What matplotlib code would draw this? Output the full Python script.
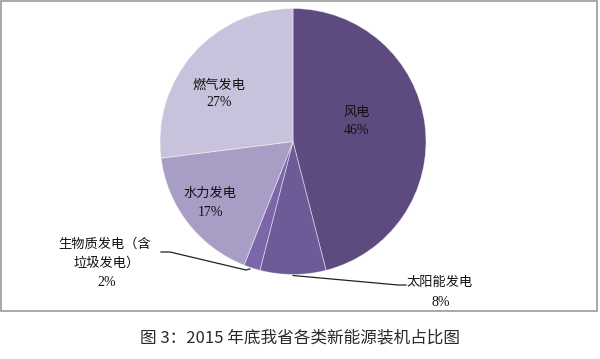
import numpy as np
import matplotlib.pyplot as plt
from matplotlib.patches import Rectangle

plt.rcParams['font.family'] = ['Noto Sans CJK SC', 'DejaVu Sans']

labels = ['风电', '太阳能发电', '生物质发电（含\n垃圾发电）', '水力发电', '燃气发电']
shares = [46, 8, 2, 17, 27]
colors = ['#5d4a7e', '#6e5a97', '#7b66a9', '#a89dc4', '#c9c2dc']

W, H = 600, 359
fig = plt.figure(figsize=(6, 3.59), dpi=100)
ax = fig.add_axes([0, 0, 1, 1])

cx, cy, r = 293, H - 141.5, 133
wedges, _ = ax.pie(shares, colors=colors, startangle=90, counterclock=False,
                   center=(cx, cy), radius=r, frame=True,
                   wedgeprops=dict(edgecolor=(1, 1, 1, 0.5), linewidth=0.6))
ax.set_xlim(0, W)
ax.set_ylim(0, H)
ax.set_aspect('equal')
ax.axis('off')

# outer frame
ax.add_patch(Rectangle((1, H - 311), 596, 310, fill=False, edgecolor='#9a9a9a', lw=1.2))

serif = ['Liberation Serif', 'Noto Sans CJK SC']
cjk = ['Noto Sans CJK SC', 'DejaVu Sans']
tc = '#111111'

# inner labels
inner = {0: (357, 112, 131), 4: (219, 85, 103), 3: (210, 193, 212)}
for i, (x, y1, y2) in inner.items():
    ax.text(x, H - y1, labels[i], ha='center', va='center', fontsize=9.5, family=cjk,
            color=tc, fontweight='medium')
    ax.text(x, H - y2, f'{shares[i]}%', ha='center', va='center', fontsize=10, family=serif, color=tc)

# biomass label
name1, name2 = labels[2].split('\n')
ax.text(105, H - 244, name1, ha='center', va='center', fontsize=9.5, family=cjk, color=tc, fontweight='medium')
ax.text(107, H - 263, name2, ha='center', va='center', fontsize=9.5, family=cjk, color=tc, fontweight='medium')
ax.text(107, H - 282, f'{shares[2]}%', ha='center', va='center', fontsize=10, family=serif, color=tc)

# solar label
ax.text(440, H - 282, labels[1], ha='center', va='center', fontsize=9.5, family=cjk, color=tc, fontweight='medium')
ax.text(441, H - 302, f'{shares[1]}%', ha='center', va='center', fontsize=10, family=serif, color=tc)

def edge_point(w):
    a = np.deg2rad((w.theta1 + w.theta2) / 2)
    return cx + r * np.cos(a), cy + r * np.sin(a)

# leader lines
bx, by = edge_point(wedges[2])
ax.plot([161, 170, bx - 6, bx - 2], [H - 252, H - 252, by - 2, by - 1], color='#222222', lw=0.9)
sx, sy = edge_point(wedges[1])
ax.plot([sx, 398, 406], [sy - 1, H - 285, H - 285], color='#222222', lw=0.9)

# caption
fig.text(0.5, 1 - 338 / H, '图 3：2015 年底我省各类新能源装机占比图', ha='center', va='center',
         fontsize=12, family=cjk, color='#2a2a2a', fontweight='light')

fig.savefig('out.png', dpi=100)
